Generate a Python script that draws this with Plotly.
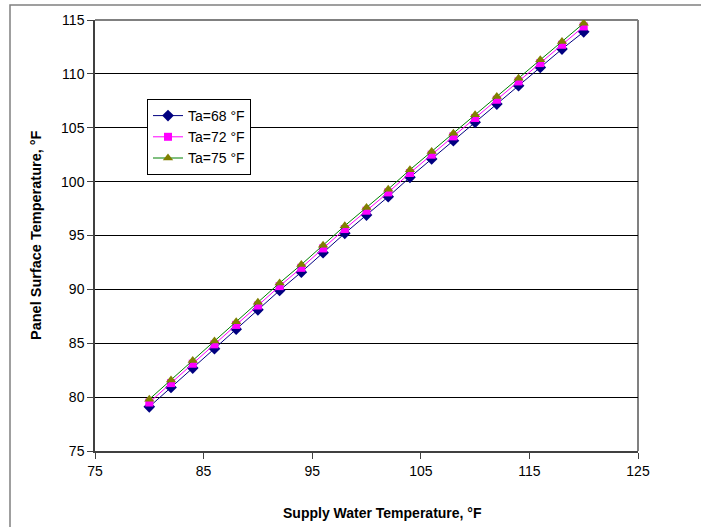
import plotly.graph_objects as go

# Supply water temperature (°F)
supply_temp = [80, 82, 84, 86, 88, 90, 92, 94, 96, 98, 100,
               102, 104, 106, 108, 110, 112, 114, 116, 118, 120]

# Panel surface temperature (°F) for each room air temperature
surf_ta68 = [79.1, 80.9, 82.7, 84.5, 86.3, 88.1, 89.9, 91.6, 93.4, 95.2, 96.9,
             98.6, 100.4, 102.1, 103.8, 105.5, 107.2, 108.9, 110.6, 112.3, 113.9]
surf_ta72 = [79.5, 81.3, 83.1, 84.9, 86.7, 88.5, 90.3, 92.0, 93.8, 95.6, 97.3,
             99.0, 100.8, 102.5, 104.2, 105.9, 107.6, 109.3, 111.0, 112.7, 114.4]
surf_ta75 = [79.8, 81.6, 83.4, 85.2, 87.0, 88.8, 90.6, 92.3, 94.1, 95.9, 97.6,
             99.3, 101.1, 102.8, 104.5, 106.2, 107.9, 109.6, 111.3, 113.0, 114.7]

x_ticks = [75, 85, 95, 105, 115, 125]
y_ticks = [75, 80, 85, 90, 95, 100, 105, 110, 115]

FONT = "Arial, Liberation Sans, sans-serif"

fig = go.Figure()
fig.add_trace(go.Scatter(
    x=supply_temp, y=surf_ta68, name="Ta=68 °F", mode="lines+markers",
    line=dict(color="#000080", width=1),
    marker=dict(symbol="diamond", size=9, color="#000080")))
fig.add_trace(go.Scatter(
    x=supply_temp, y=surf_ta72, name="Ta=72 °F", mode="lines+markers",
    line=dict(color="#FF00FF", width=1),
    marker=dict(symbol="square", size=8, color="#FF00FF")))
fig.add_trace(go.Scatter(
    x=supply_temp, y=surf_ta75, name="Ta=75 °F", mode="lines+markers",
    line=dict(color="#008000", width=1),
    marker=dict(symbol="triangle-up", size=9, color="#808000")))

L, R, T, B = 95, 638, 20, 451
W, H = 701, 527
pw, ph = R - L, B - T

def px(xp):
    return (xp - L) / pw

def py(yp):
    return (B - yp) / ph

shapes = [
    # top and right edges of the plot frame
    dict(type="line", xref="paper", yref="paper", x0=0, x1=1, y0=1, y1=1,
         line=dict(color="#808080", width=2), layer="between"),
    dict(type="line", xref="paper", yref="paper", x0=1, x1=1, y0=0, y1=1,
         line=dict(color="#808080", width=2), layer="between"),
    # outer chart border
    dict(type="rect", xref="paper", yref="paper",
         x0=px(10), x1=px(760), y0=py(5), y1=py(600),
         line=dict(color="#808080", width=1.5), fillcolor="rgba(0,0,0,0)"),
]

fig.update_layout(
    width=W, height=H,
    margin=dict(l=L, r=W - R, t=T, b=H - B),
    paper_bgcolor="white", plot_bgcolor="white",
    font=dict(family=FONT, size=13, color="black"),
    showlegend=True,
    legend=dict(x=px(147), y=py(99), xanchor="left", yanchor="top",
                bgcolor="white", bordercolor="black", borderwidth=1,
                font=dict(family=FONT, size=14, color="black"),
                tracegroupgap=0),
    shapes=shapes,
    annotations=[
        dict(text="<b>Supply Water Temperature, °F</b>", xref="paper", yref="paper",
             x=px(382), y=py(513), xanchor="center", yanchor="middle",
             showarrow=False, font=dict(family=FONT, size=14, color="black")),
        dict(text="<b>Panel Surface Temperature, °F</b>", xref="paper", yref="paper",
             x=px(36), y=py(235), xanchor="center", yanchor="middle", textangle=-90,
             showarrow=False, font=dict(family=FONT, size=14.5, color="black")),
    ],
)

fig.update_xaxes(range=[75, 125], tickvals=x_ticks, showgrid=False, zeroline=False,
                 showline=True, linecolor="#404040", linewidth=1.5,
                 ticks="outside", ticklen=6, tickcolor="#404040",
                 tickfont=dict(family=FONT, size=14, color="black"))
fig.update_yaxes(range=[75, 115], tickvals=y_ticks, showgrid=True,
                 gridcolor="black", gridwidth=1, zeroline=False,
                 showline=True, linecolor="#404040", linewidth=1.5,
                 ticks="outside", ticklen=6, tickcolor="#404040",
                 tickfont=dict(family=FONT, size=14, color="black"))

fig.write_html("out.html")
